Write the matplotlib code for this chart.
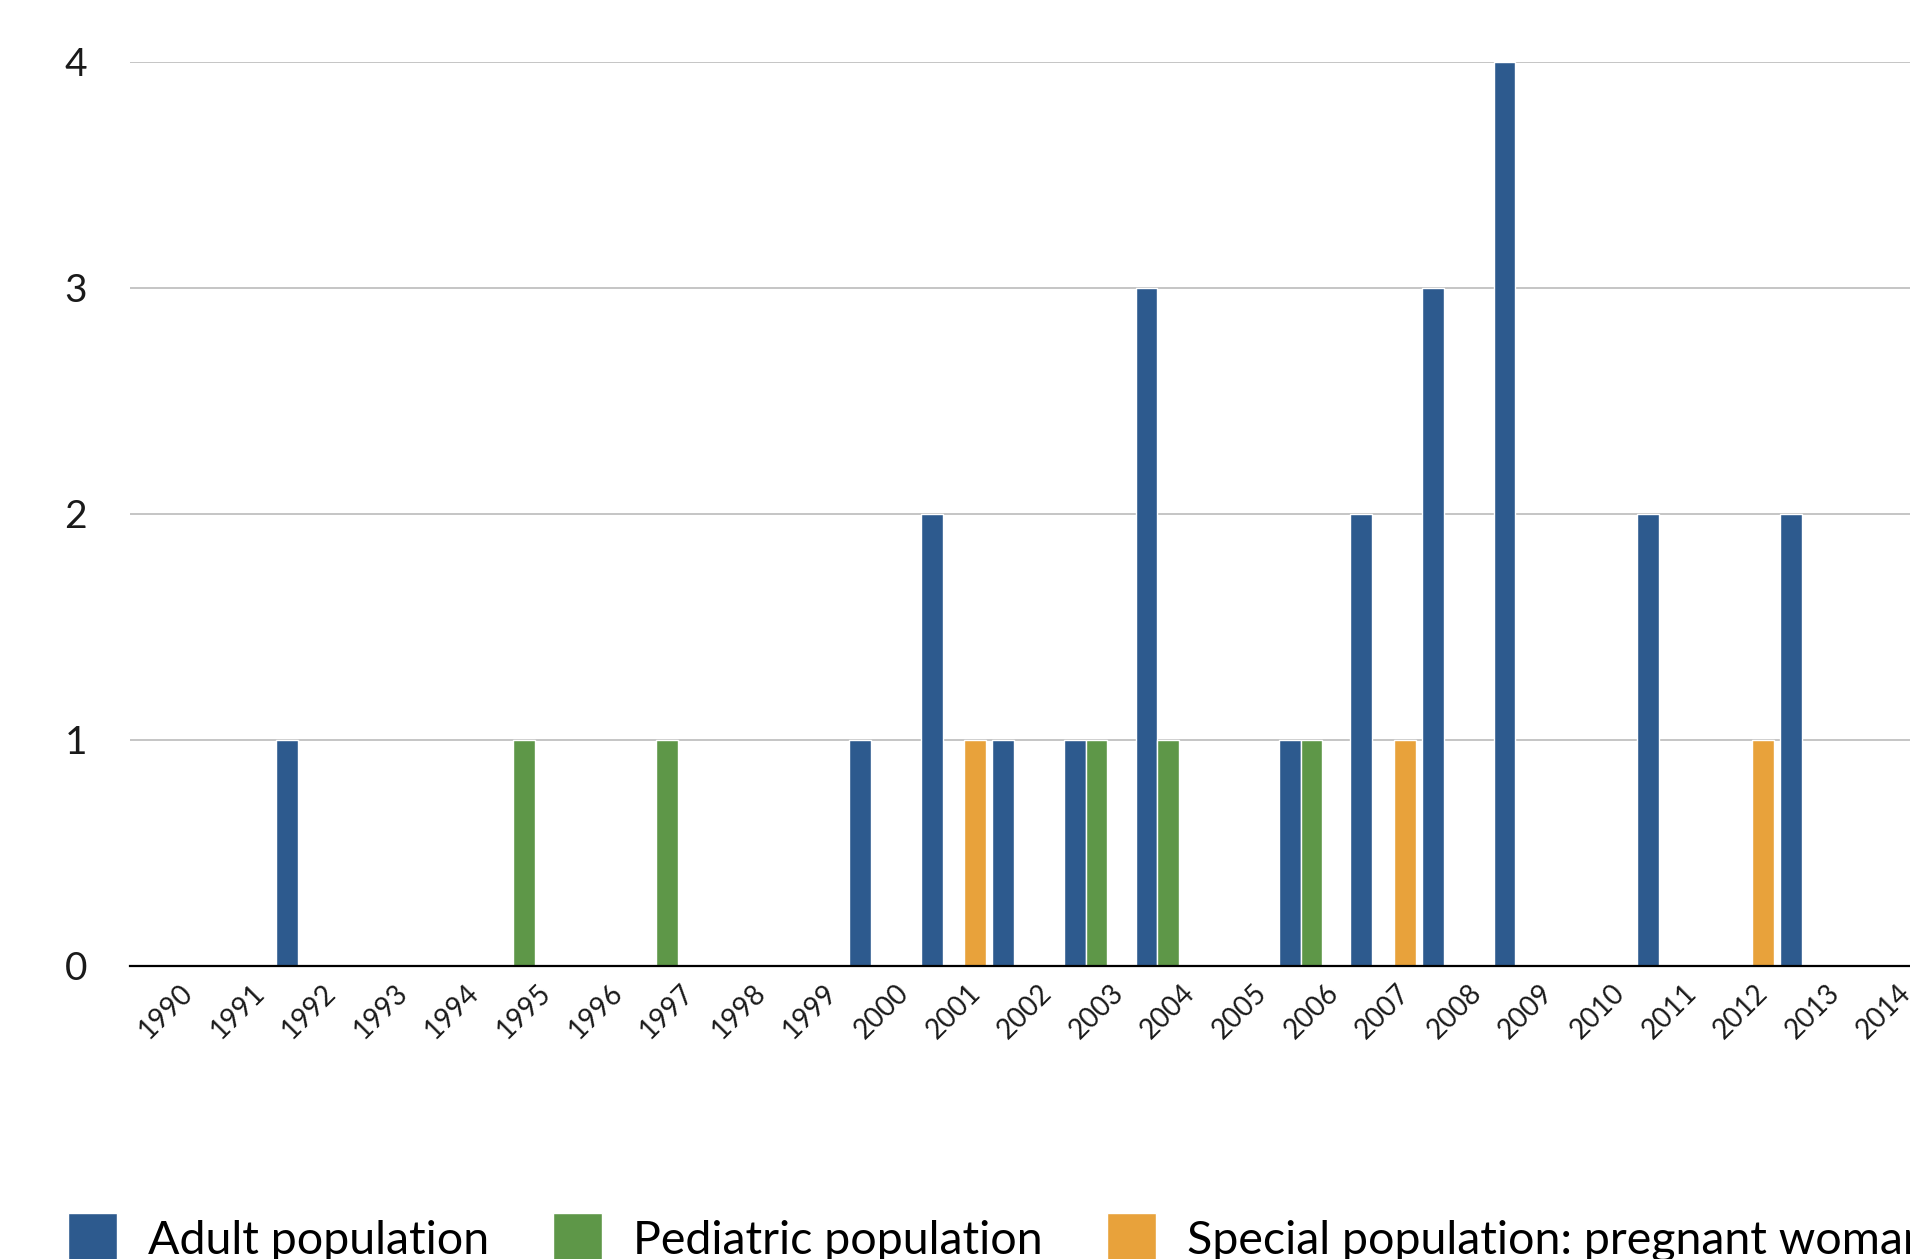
import matplotlib
matplotlib.use("Agg")
import matplotlib.pyplot as plt
import numpy as np

plt.rcParams['font.family'] = ['Lato', 'DejaVu Sans']

years = [str(y) for y in range(1990, 2015)]
adult = [0, 0, 1, 0, 0, 0, 0, 0, 0, 0, 1, 2, 1, 1, 3, 0, 1, 2, 3, 4, 0, 2, 0, 2, 0]
pediatric = [0, 0, 0, 0, 0, 1, 0, 1, 0, 0, 0, 0, 0, 1, 1, 0, 1, 0, 0, 0, 0, 0, 0, 0, 0]
pregnant = [0, 0, 0, 0, 0, 0, 0, 0, 0, 0, 0, 1, 0, 0, 0, 0, 0, 1, 0, 0, 0, 0, 1, 0, 0]
series_names = ["Adult population", "Pediatric population", "Special population: pregnant woman"]
colors = ["#2D5A8E", "#5E9748", "#E8A23B"]

W, H = 1910, 1259
fig = plt.figure(figsize=(W / 100, H / 100), dpi=100)
ax = fig.add_axes([130 / W, (H - 966) / H, 1790 / W, 904 / H])

x = np.arange(len(years))
slot = 0.303
handles = []
for i, (vals, name, c) in enumerate(zip([adult, pediatric, pregnant], series_names, colors)):
    b = ax.bar(x + (i - 1) * slot, vals, width=slot, color=c, edgecolor="white",
               linewidth=1.0, label=name, zorder=3)
    handles.append(b)

ax.set_xlim(-0.5, len(years) - 0.5)
ax.set_ylim(0, 4)
ax.set_yticks([0, 1, 2, 3, 4])
ax.set_yticklabels(["0", "1", "2", "3", "4"], fontsize=28, color="#1a1a1a")
ax.set_xticks(x)
ax.set_xticklabels(years, rotation=45, ha="center", va="top", fontsize=20, color="#1a1a1a")
ax.tick_params(axis="y", length=0, pad=31)
ax.tick_params(axis="x", length=0, pad=10)

ax.grid(axis="y", color="#C0C0C0", linewidth=1.3, zorder=0)
ax.set_axisbelow(True)
for s in ["left", "right", "top"]:
    ax.spines[s].set_visible(False)
ax.spines["bottom"].set_color("black")
ax.spines["bottom"].set_linewidth(1.6)
ax.spines["bottom"].set_zorder(4)

leg = fig.legend(handles=handles, labels=series_names, loc="upper left",
                 bbox_to_anchor=(68 / W, 1 - 1213 / H), ncol=3, frameon=False,
                 prop={"size": 33.5},
                 handlelength=1.05, handleheight=1.3,
                 handletextpad=0.66, columnspacing=1.39, borderpad=0, borderaxespad=0)

fig.savefig("out.png", dpi=100)
